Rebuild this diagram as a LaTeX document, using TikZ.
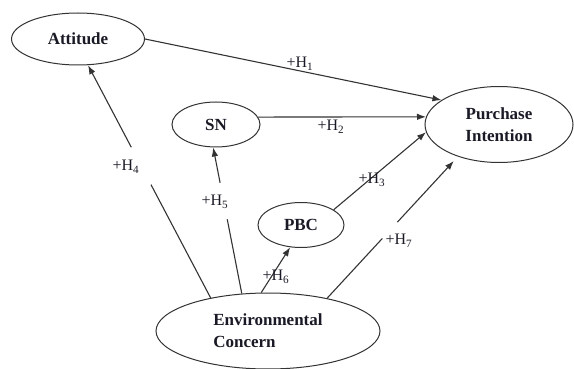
\documentclass[tikz,border=0pt]{standalone}
\usepackage{fontspec}
\setmainfont{Liberation Serif}
\usetikzlibrary{shapes.geometric,arrows.meta}

\definecolor{inkline}{HTML}{333333}
\definecolor{inktext}{HTML}{1A1A26}

\tikzset{
  construct/.style={ellipse, draw=inkline, line width=1pt, inner sep=0pt,
    text=inktext, font=\fontsize{17}{22}\selectfont\bfseries, align=center},
  path arrow/.style={draw=inkline, line width=1.1pt,
    -{Latex[length=9pt,width=6.5pt]}},
  hyp/.style={text=inktext, font=\fontsize{16}{18}\selectfont, inner sep=0pt},
  gapmask/.style={sloped, fill=white, inner sep=0pt, minimum height=4pt}
}

\begin{document}
\begin{tikzpicture}[x=1pt, y=-1pt]
  \useasboundingbox (0,0) rectangle (574,369);

  % latent constructs
  \node[construct, minimum width=133pt, minimum height=52pt] (att) at (78,39) {Attitude};
  \node[construct, minimum width=88pt, minimum height=45pt] (sn) at (216,124.5) {SN};
  \node[construct, minimum width=86pt, minimum height=45pt] (pbc) at (301,225) {PBC};
  \node[construct, minimum width=148pt, minimum height=76pt] (pi) at (499,124.5) {Purchase\\Intention};
  \node[construct, minimum width=224pt, minimum height=76pt, align=left] (ec) at (268,331) {Environmental\\Concern};

  % hypothesised paths
  \draw[path arrow] (att.east) -- (pi.157);
  \draw[path arrow] (sn.10) -- (pi.174);
  \draw[path arrow] (pbc.25) -- (pi.186);
  \draw[path arrow, shorten >=6pt] (ec.29) -- node[gapmask, pos=0.48, minimum width=22pt] (g7) {} (pi.218);
  \draw[path arrow] (ec.150) -- node[gapmask, pos=0.567, minimum width=42pt] (g4) {} (att.291);
  \draw[path arrow] (ec.125) -- node[gapmask, pos=0.633, minimum width=37pt] (g5) {} (sn.263);
  \draw[path arrow] (ec.100) -- (pbc.244);

  % hypothesis labels
  \node[hyp] (h1) at (300,64) {+H\textsubscript{1}};
  \node[hyp] (h2) at (331,127) {+H\textsubscript{2}};
  \node[hyp] (h3) at (372,180) {+H\textsubscript{3}};
  \node[hyp] (h4) at (126,167) {+H\textsubscript{4}};
  \node[hyp] (h5) at (215,202) {+H\textsubscript{5}};
  \node[hyp] (h6) at (276,277) {+H\textsubscript{6}};
  \node[hyp] (h7) at (399,241) {+H\textsubscript{7}};
\end{tikzpicture}
\end{document}
